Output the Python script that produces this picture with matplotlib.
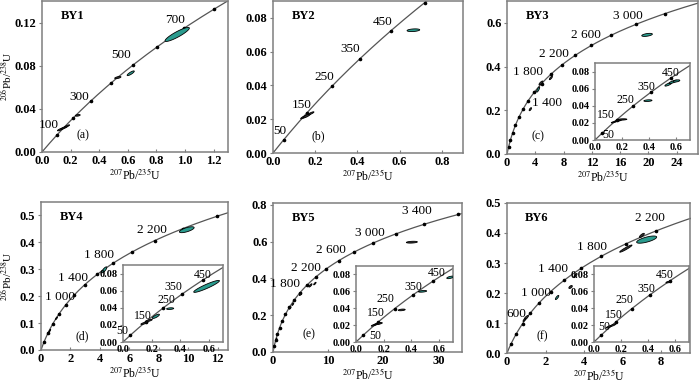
import numpy as np
import matplotlib.pyplot as plt
from matplotlib.patches import Polygon

plt.rcParams['font.family'] = ['Liberation Serif', 'DejaVu Serif']
plt.rcParams['mathtext.fontset'] = 'stix'

L238 = 1.55125e-10  # decay constants, 1/yr
L235 = 9.8485e-10

# ====== DATA ====== #
names = ['BY1', 'BY2', 'BY3', 'BY4', 'BY5', 'BY6']
tags = ['(a)', '(b)', '(c)', '(d)', '(e)', '(f)']

# labelled ages on the concordia (Ma)
a_ages = [100, 300, 500, 700]
b_ages = [50, 150, 250, 350, 450]
c_ages = [1400, 1800, 2200, 2600, 3000]
d_ages = [1000, 1400, 1800, 2200]
e_ages = [1800, 2200, 2600, 3000, 3400]
f_ages = [600, 1000, 1400, 1800, 2200]
inset_ages = [50, 150, 250, 350, 450]

# error ellipses: (207Pb/235U, 206Pb/238U, sigma_x, sigma_y, rho)
a_dark = [(0.13, 0.021, 0.022, 0.0014, 0.85), (0.155, 0.0225, 0.022, 0.0014, 0.85),
          (0.175, 0.024, 0.018, 0.0012, 0.85), (0.25, 0.034, 0.017, 0.0008, 0.4),
          (0.53, 0.069, 0.022, 0.001, 0.6)]
a_teal = [(0.62, 0.073, 0.025, 0.0022, 0.85), (0.945, 0.109, 0.085, 0.0065, 0.9)]

b_dark = [(0.145, 0.0212, 0.014, 0.001, 0.85), (0.16, 0.022, 0.017, 0.0012, 0.85),
          (0.18, 0.0235, 0.014, 0.0009, 0.85)]
b_teal = [(0.665, 0.0727, 0.03, 0.0008, 0.3)]

c_dark = [(3.3, 0.205, 0.17, 0.007, 0.7), (4.8, 0.325, 0.28, 0.009, 0.8),
          (6.2, 0.348, 0.22, 0.008, 0.8), (0.5, 0.06, 0.06, 0.005, 0.8)]
c_teal = [(4.4, 0.295, 0.22, 0.012, 0.8), (19.8, 0.545, 0.75, 0.007, 0.5)]

d_dark = [(0.5, 0.062, 0.06, 0.005, 0.8), (0.6, 0.072, 0.06, 0.005, 0.8),
          (1.05, 0.118, 0.07, 0.005, 0.8)]
d_teal = [(4.3, 0.298, 0.17, 0.011, 0.8), (9.9, 0.447, 0.5, 0.011, 0.7)]

e_dark = [(3.1, 0.24, 0.17, 0.007, 0.7), (3.6, 0.26, 0.17, 0.007, 0.7),
          (5.0, 0.315, 0.22, 0.008, 0.8), (6.8, 0.362, 0.28, 0.009, 0.8),
          (7.6, 0.372, 0.22, 0.007, 0.8), (25.2, 0.597, 1.0, 0.005, 0.3),
          (0.6, 0.07, 0.12, 0.006, 0.8)]
e_teal = []

f_dark = [(1.0, 0.118, 0.11, 0.007, 0.8), (3.3, 0.22, 0.09, 0.005, 0.6),
          (3.55, 0.258, 0.09, 0.007, 0.8), (6.17, 0.348, 0.32, 0.012, 0.95),
          (7.0, 0.392, 0.13, 0.007, 0.8), (0.9, 0.11, 0.07, 0.005, 0.8)]
f_teal = [(2.6, 0.185, 0.09, 0.007, 0.8), (7.25, 0.378, 0.52, 0.012, 0.7)]

# insets (c-f)
c_in_dark = [(0.14, 0.021, 0.02, 0.0011, 0.8), (0.17, 0.0225, 0.025, 0.0011, 0.8),
             (0.2, 0.024, 0.035, 0.0008, 0.3)]
c_in_teal = [(0.39, 0.046, 0.03, 0.001, 0.3), (0.54, 0.065, 0.025, 0.002, 0.8),
             (0.575, 0.068, 0.03, 0.002, 0.8), (0.6, 0.069, 0.025, 0.0013, 0.5)]
d_in_dark = [(0.15, 0.022, 0.025, 0.0015, 0.8), (0.18, 0.025, 0.025, 0.0015, 0.8)]
d_in_teal = [(0.23, 0.030, 0.025, 0.0025, 0.8), (0.33, 0.039, 0.025, 0.001, 0.3),
             (0.585, 0.065, 0.09, 0.007, 0.93)]
e_in_dark = [(0.13, 0.020, 0.02, 0.0013, 0.8), (0.155, 0.0215, 0.025, 0.0013, 0.8),
             (0.17, 0.022, 0.02, 0.001, 0.6), (0.33, 0.038, 0.025, 0.001, 0.4)]
e_in_teal = [(0.48, 0.060, 0.03, 0.001, 0.4), (0.68, 0.0765, 0.025, 0.0015, 0.6)]
f_in_dark = [(0.11, 0.018, 0.02, 0.0015, 0.8), (0.14, 0.020, 0.02, 0.0015, 0.8),
             (0.55, 0.071, 0.02, 0.001, 0.6)]
f_in_teal = []

# ====== LAYOUT ====== #
W, H = 700, 382

def box(x0, y0, x1, y1):
    return [x0 / W, 1 - y1 / H, (x1 - x0) / W, (y1 - y0) / H]

# pixel boxes, limits, tick steps, tick formats, dot step (Ma), label offsets (px)
panels = [
    dict(box=(42, 1, 228, 152), xlim=1.3, ylim=0.14, xs=0.2, ys=0.04, xf='%.1f', yf='%.2f',
         step=100, ages=a_ages, dark=a_dark, teal=a_teal,
         off=[(-8, 10), (-11.5, 4), (-11.7, 9.7), (-9, 8)], tag=(0.22, 0.11)),
    dict(box=(273, 1, 463, 153), xlim=0.9, ylim=0.09, xs=0.2, ys=0.02, xf='%.1f', yf='%.2f',
         step=100, start=50, ages=b_ages, dark=b_dark, teal=b_teal,
         off=[(-4, 8.4), (-5, 8.5), (-8, 9.5), (-9.5, 9.5), (-8, 9)], tag=(0.24, 0.11)),
    dict(box=(507, 1, 698, 154), xlim=27, ylim=0.7, xs=4, ys=0.2, xf='%d', yf='%.1f',
         step=200, ages=c_ages, dark=c_dark, teal=c_teal,
         off=[(19, -2.3), (-14, 11.6), (-8, 11.5), (-6, 10), (-7.6, 8.4)], tag=(0.16, 0.115),
         inset=(595, 63, 690, 140), idark=c_in_dark, iteal=c_in_teal,
         ioff=[(6.4, -1.7), (-10.6, 4.9), (-7, 6), (-4, 5.6), (0, 5)]),
    dict(box=(41, 202, 228, 350), xlim=12.7, ylim=0.55, xs=2, ys=0.1, xf='%d', yf='%.1f',
         step=200, ages=d_ages, dark=d_dark, teal=d_teal,
         off=[(-5.7, 7.5), (-12, 6.3), (-14, 8), (-3, 11)], tag=(0.22, 0.095),
         inset=(123, 265, 223, 342), idark=d_in_dark, iteal=d_in_teal,
         ioff=[(-8, 4), (-2.4, 6), (4, 8), (-8, 7.6), (0, 5)]),
    dict(box=(273, 203, 462, 352), xlim=34.3, ylim=0.81, xs=10, ys=0.2, xf='%d', yf='%.1f',
         step=200, ages=e_ages, dark=e_dark, teal=e_teal,
         off=[(-15, 8.5), (-10, 8.8), (-8, 11), (-3.6, 10), (-7.3, 12.8)], tag=(0.19, 0.117),
         inset=(356, 266, 453, 342), idark=e_in_dark, iteal=e_in_teal,
         ioff=[(12, -1), (-2.6, 9), (-9, 10), (0, 8), (3, 8)]),
    dict(box=(507, 203, 690, 353), xlim=9.5, ylim=0.5, xs=2, ys=0.1, xf='%d', yf='%.1f',
         step=200, ages=f_ages, dark=f_dark, teal=f_teal,
         off=[(-6, 9.4), (-3, 10), (-11, 11.4), (-9.4, 9.3), (-6.3, 12.6)], tag=(0.19, 0.11),
         inset=(594, 266, 689, 342), idark=f_in_dark, iteal=f_in_teal,
         ioff=[(3, 8), (-2, 7), (-7, 9), (-3, 5.6), (-5, 6)]),
]

FRAME = '#7f7f7f'
TEAL = '#2a9b8e'
PX = 0.72  # points per pixel at dpi 100


def concordia(t_ma):
    t = np.asarray(t_ma, dtype=float) * 1e6
    return np.exp(L235 * t) - 1, np.exp(L238 * t) - 1


def ellipse_xy(cx, cy, sx, sy, rho, n=60):
    th = np.linspace(0, 2 * np.pi, n)
    x = cx + sx * np.cos(th)
    y = cy + sy * (rho * np.cos(th) + np.sqrt(1 - rho ** 2) * np.sin(th))
    return np.column_stack([x, y])


def style_axes(ax, xlim, ylim, xs, ys, xf, yf, fs):
    ax.set_xlim(0, xlim)
    ax.set_ylim(0, ylim)
    ax.set_xticks(np.arange(0, xlim + 1e-9, xs))
    ax.set_yticks(np.arange(0, ylim + 1e-9, ys))
    ax.set_xticklabels([xf % v for v in ax.get_xticks()])
    ax.set_yticklabels([yf % v for v in ax.get_yticks()])
    for s in ax.spines.values():
        s.set_color(FRAME)
        s.set_linewidth(1.1)
    ax.tick_params(axis='x', direction='in', length=2.5, width=0.8, color=FRAME,
                   labelsize=fs, pad=2)
    ax.tick_params(axis='y', direction='out', length=2.5, width=0.8, color=FRAME,
                   labelsize=fs, pad=1.5)
    for lab in ax.get_xticklabels() + ax.get_yticklabels():
        lab.set_fontweight('bold')


def draw_concordia(ax, tmax, step, start, ages, offsets, fs):
    t = np.linspace(0, tmax, 800)
    x, y = concordia(t)
    ax.plot(x, y, color='#555555', lw=0.9, zorder=2)
    dots = np.arange(start, tmax, step)
    dx, dy = concordia(dots)
    ax.plot(dx, dy, 'o', color='black', ms=1.6, zorder=3)
    for age, (ox, oy) in zip(ages, offsets):
        px, py = concordia(age)
        txt = str(age) if age < 1000 else '%d %03d' % (age // 1000, age % 1000)
        ax.annotate(txt, (px, py), xytext=(ox * PX, oy * PX), textcoords='offset points',
                    ha='center', va='center', fontsize=fs, zorder=4)


def draw_ellipses(ax, dark, teal):
    for e in dark:
        ax.add_patch(Polygon(ellipse_xy(*e), closed=True, facecolor='#333333',
                             edgecolor='black', lw=0.6, zorder=5))
    for e in teal:
        ax.add_patch(Polygon(ellipse_xy(*e), closed=True, facecolor=TEAL,
                             edgecolor='black', lw=0.6, zorder=5))


fig = plt.figure(figsize=(7, 3.82), dpi=100)
xlab = r'$^{207}$Pb/$^{235}$U'
ylab = r'$^{206}$Pb/$^{238}$U'

for i, p in enumerate(panels):
    ax = fig.add_axes(box(*p['box']))
    style_axes(ax, p['xlim'], p['ylim'], p['xs'], p['ys'], p['xf'], p['yf'], 9)
    draw_concordia(ax, 4500, p['step'], p.get('start', p['step']), p['ages'], p['off'], 9.5)
    draw_ellipses(ax, p['dark'], p['teal'])
    ax.text(0.1, 0.9, names[i], transform=ax.transAxes, fontsize=9, fontweight='bold',
            ha='left', va='center')
    ax.text(p['tag'][0], p['tag'][1], tags[i], transform=ax.transAxes, fontsize=8.5,
            ha='center', va='center')
    ax.set_xlabel(xlab, fontsize=8.5, labelpad=0.5 if i < 3 else 0)
    if i % 3 == 0:
        # y label sits right at the left edge of the figure
        yc = (p['box'][1] + p['box'][3]) / 2
        fig.text(7 / W, 1 - yc / H, ylab, rotation=90, fontsize=8,
                 ha='center', va='center')

    if 'inset' in p:
        axi = fig.add_axes(box(*p['inset']))
        axi.set_zorder(10)
        style_axes(axi, 0.7, 0.09, 0.2, 0.02, '%.1f', '%.2f', 7.5)
        draw_concordia(axi, 700, 100, 50, inset_ages, p['ioff'], 8.5)
        draw_ellipses(axi, p['idark'], p['iteal'])

fig.savefig('out.png', dpi=100)
